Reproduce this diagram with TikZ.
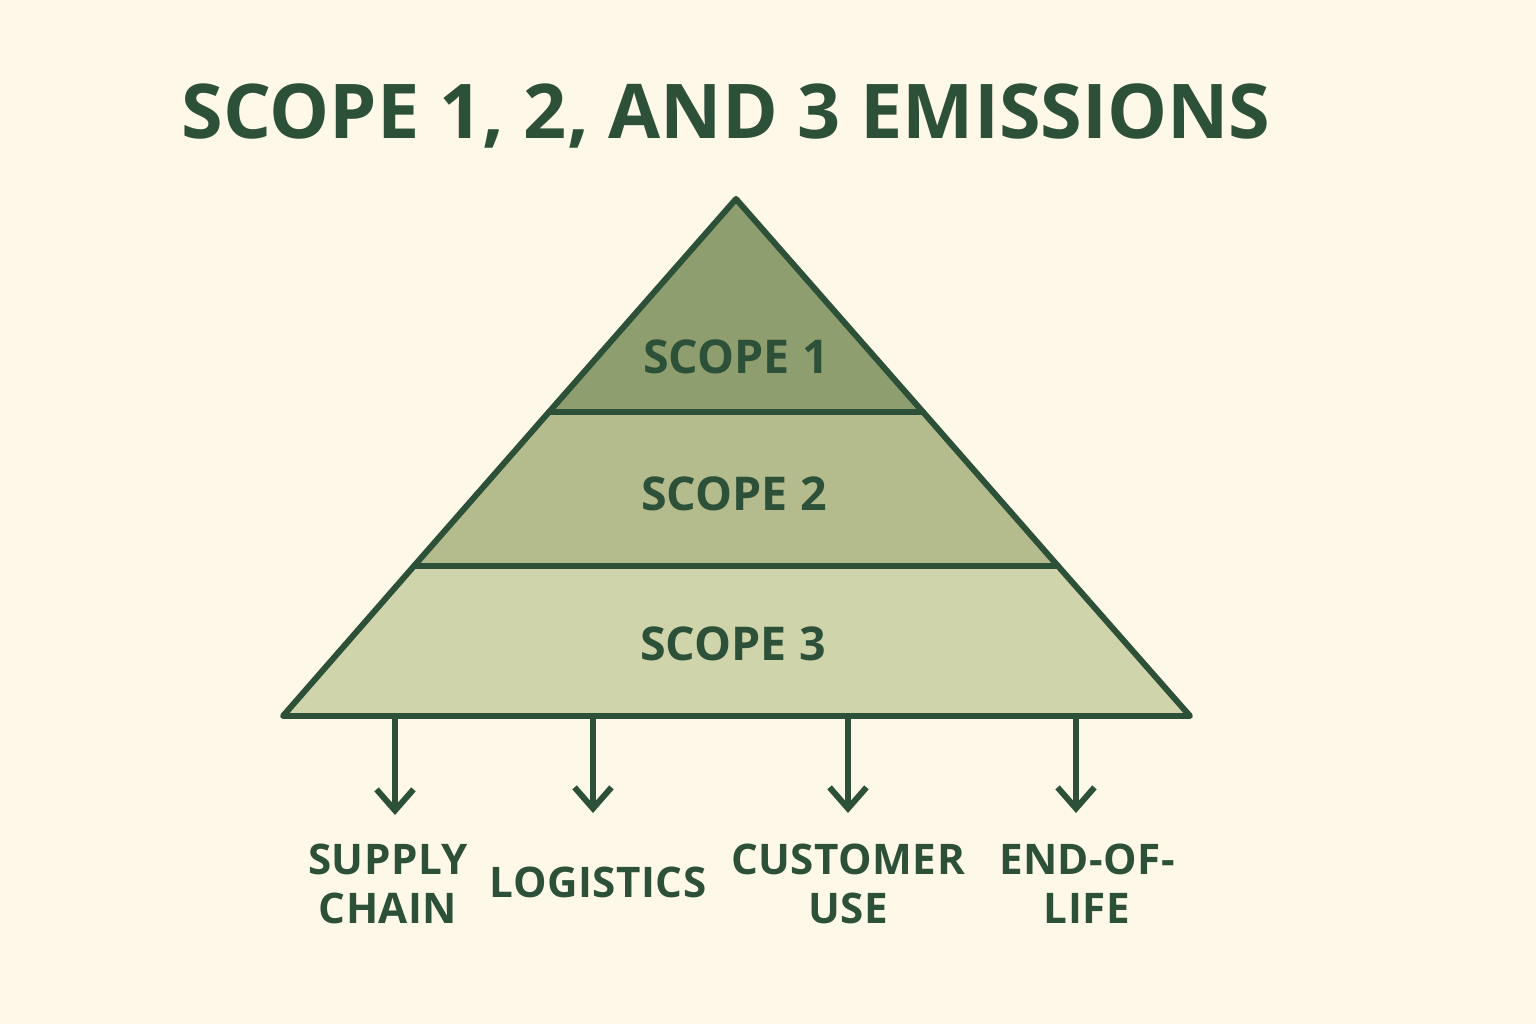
\documentclass[tikz,border=0pt]{standalone}
\usepackage{fontspec}
\usepackage{tikz}
\usetikzlibrary{arrows.meta}
\setmainfont{Open Sans}
\newfontfamily\labfont[LetterSpace=1.2]{Open Sans}
\definecolor{bg}{HTML}{FDF8E7}
\definecolor{dkgreen}{HTML}{2D5138}
\definecolor{tierA}{HTML}{8E9E6F}
\definecolor{tierB}{HTML}{B4BB8D}
\definecolor{tierC}{HTML}{CFD4AB}
\tikzset{
  tier/.style={draw=dkgreen, line width=3.4pt, line join=round},
  tiertext/.style={text=dkgreen, font=\fontsize{26.5}{26.5}\selectfont\bfseries},
  outlab/.style={text=dkgreen, align=center, font=\labfont\fontsize{24}{28}\selectfont\bfseries},
  down/.style={draw=dkgreen, line width=3pt, -{Straight Barb[length=12pt,width=21pt,line width=3.4pt]}}
}

\begin{document}
\begin{tikzpicture}[x=0.02cm, y=-0.02cm]
    \fill[bg] (0,0) rectangle (1536,1024);
    \useasboundingbox (0,0) rectangle (1536,1024);

    \node (t) at (726, 116) {\textcolor{dkgreen}{\fontsize{43}{43}\selectfont\bfseries SCOPE 1, 2, AND 3 EMISSIONS}};

    % pyramid corners
    \coordinate (top) at (736, 199);
    \coordinate (bl) at (283, 716);
    \coordinate (br) at (1190, 716);
    \coordinate (ml1) at (549, 412);
    \coordinate (mr1) at (923, 412);
    \coordinate (ml2) at (414, 566);
    \coordinate (mr2) at (1058, 566);

    \filldraw[tier, fill=tierC] (ml2) -- (mr2) -- (br) -- (bl) -- cycle;
    \filldraw[tier, fill=tierB] (ml1) -- (mr1) -- (mr2) -- (ml2) -- cycle;
    \filldraw[tier, fill=tierA] (top) -- (mr1) -- (ml1) -- cycle;

    \node[tiertext] (a) at (736, 357) {SCOPE 1};
    \node[tiertext] (b) at (734, 494) {SCOPE 2};
    \node[tiertext] (c) at (733, 644) {SCOPE 3};

    \node[outlab] (d) at (388, 884) {SUPPLY\\CHAIN};
    \node[outlab] (e) at (598, 882) {LOGISTICS};
    \node[outlab] (f) at (848, 884) {CUSTOMER\\USE};
    \node[outlab] (g) at (1087, 884) {END-OF-\\LIFE};

    \coordinate (p1) at (395, 716);
    \coordinate (p2) at (593, 716);
    \coordinate (p3) at (848, 716);
    \coordinate (p4) at (1076, 716);
    \coordinate (q1) at (395, 815);
    \coordinate (q2) at (593, 813);
    \coordinate (q3) at (848, 813);
    \coordinate (q4) at (1076, 813);

    \draw [down] (p1) -- (q1);
    \draw [down] (p2) -- (q2);
    \draw [down] (p3) -- (q3);
    \draw [down] (p4) -- (q4);
\end{tikzpicture}
\end{document}
